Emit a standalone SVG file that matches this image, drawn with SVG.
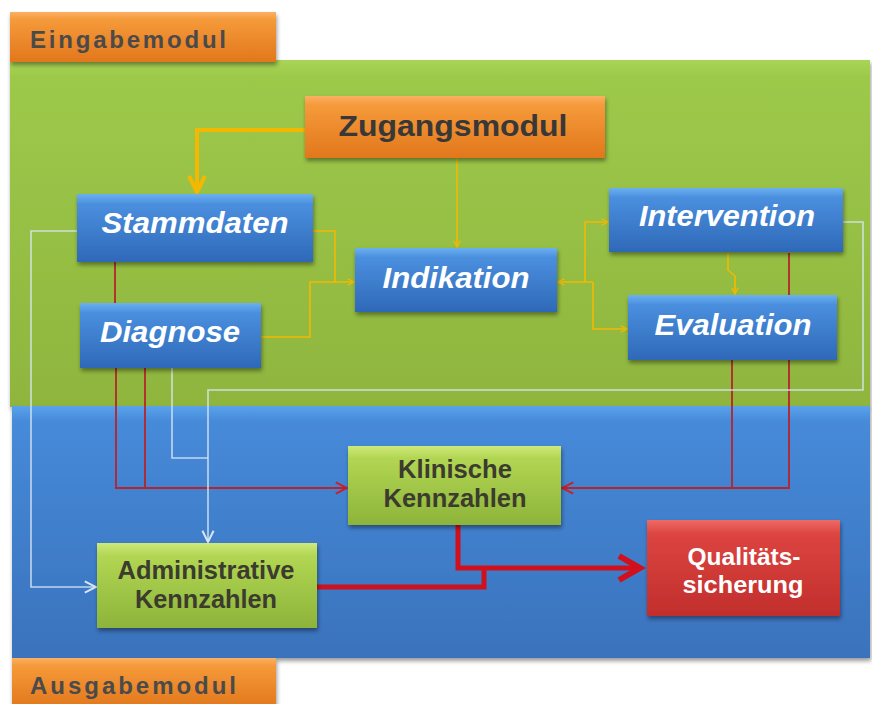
<svg xmlns="http://www.w3.org/2000/svg" width="872" height="704" viewBox="0 0 872 704">
<defs>
<linearGradient id="gGreenPanel" x1="0" y1="0" x2="0" y2="1"><stop offset="0" stop-color="#a9d456"/><stop offset="0.05" stop-color="#9dc94a"/><stop offset="1" stop-color="#8fb53e"/></linearGradient>
<linearGradient id="gBluePanel" x1="0" y1="0" x2="0" y2="1"><stop offset="0" stop-color="#5aa3ea"/><stop offset="0.06" stop-color="#468ad9"/><stop offset="1" stop-color="#3a72bc"/></linearGradient>
<linearGradient id="gOrange" x1="0" y1="0" x2="0" y2="1"><stop offset="0" stop-color="#fbb063"/><stop offset="0.15" stop-color="#f59a3a"/><stop offset="1" stop-color="#e2771c"/></linearGradient>
<linearGradient id="gBlue" x1="0" y1="0" x2="0" y2="1"><stop offset="0" stop-color="#6bb0ef"/><stop offset="0.15" stop-color="#4a8fde"/><stop offset="1" stop-color="#2e69b8"/></linearGradient>
<linearGradient id="gLime" x1="0" y1="0" x2="0" y2="1"><stop offset="0" stop-color="#cfe97a"/><stop offset="0.15" stop-color="#b2d653"/><stop offset="1" stop-color="#8db43a"/></linearGradient>
<linearGradient id="gRed" x1="0" y1="0" x2="0" y2="1"><stop offset="0" stop-color="#ee6a64"/><stop offset="0.15" stop-color="#dc4440"/><stop offset="1" stop-color="#c12e2c"/></linearGradient>
<filter id="sh" x="-10%" y="-10%" width="130%" height="140%"><feDropShadow dx="1" dy="3" stdDeviation="2" flood-color="#000" flood-opacity="0.4"/></filter>
<marker id="aY" viewBox="0 0 10 10" refX="9" refY="5" markerWidth="8" markerHeight="8" orient="auto" markerUnits="userSpaceOnUse"><path d="M1,1 L9,5 L1,9" fill="none" stroke="#f5b800" stroke-width="1.6"/></marker>
<marker id="aYb" viewBox="0 0 10 10" refX="9" refY="5" markerWidth="20" markerHeight="20" orient="auto" markerUnits="userSpaceOnUse"><path d="M1,1 L9,5 L1,9" fill="none" stroke="#f5b800" stroke-width="2"/></marker>
<marker id="aR" viewBox="0 0 10 10" refX="9" refY="5" markerWidth="14" markerHeight="14" orient="auto" markerUnits="userSpaceOnUse"><path d="M1,1 L9,5 L1,9" fill="none" stroke="#c8202a" stroke-width="1.4"/></marker>
<marker id="aRb" viewBox="0 0 10 10" refX="8" refY="5" markerWidth="6" markerHeight="6" orient="auto" markerUnits="strokeWidth"><path d="M1,1 L8,5 L1,9" fill="none" stroke="#d0101c" stroke-width="2"/></marker>
<marker id="aW" viewBox="0 0 10 10" refX="9" refY="5" markerWidth="14" markerHeight="14" orient="auto" markerUnits="userSpaceOnUse"><path d="M1,1 L9,5 L1,9" fill="none" stroke="#d8e6f2" stroke-width="1.4"/></marker>
<style>
.tab{fill:url(#gOrange);filter:url(#sh)}
.tabt{font-family:"Liberation Sans",Arial,sans-serif;font-weight:bold;font-size:24px;fill:#4a4a4a}
.bn{fill:url(#gBlue);filter:url(#sh)}
.bt{font-family:"Liberation Sans",Arial,sans-serif;font-weight:bold;font-style:italic;font-size:29px;fill:#fff;text-anchor:middle}
.gn{fill:url(#gLime);filter:url(#sh)}
.gt{font-family:"Liberation Sans",Arial,sans-serif;font-weight:bold;font-size:25px;fill:#3b3b2e;text-anchor:middle}
.rt{font-family:"Liberation Sans",Arial,sans-serif;font-weight:bold;font-size:24px;fill:#fff;text-anchor:middle}
.y{fill:none;stroke:#f5b800;stroke-width:1.6}
.yb{fill:none;stroke:#f5b800;stroke-width:4}
.r{fill:none;stroke:#b8232c;stroke-width:1.8}
.rb{fill:none;stroke:#d0101c;stroke-width:5}
.w{fill:none;stroke:#d8e6f2;stroke-width:1.6;stroke-opacity:0.85}
</style>
</defs>
<rect width="872" height="704" fill="#fff"/>
<g id="panel-eingabe"><rect x="10" y="60" width="860" height="347" fill="url(#gGreenPanel)" filter="url(#sh)"/></g>
<g id="panel-ausgabe"><rect x="12" y="406" width="858" height="252" fill="url(#gBluePanel)" filter="url(#sh)"/></g>
<g id="tab-eingabe"><rect class="tab" x="10" y="12" width="266" height="50"/><text class="tabt" x="30" y="48" textLength="196" lengthAdjust="spacing">Eingabemodul</text></g>
<g id="tab-ausgabe"><rect class="tab" x="12" y="658" width="264" height="50"/><text class="tabt" x="30" y="694" textLength="206" lengthAdjust="spacing">Ausgabemodul</text></g>
<g id="connectors">
<path class="yb" d="M305,130 H197 V192" marker-end="url(#aYb)"/>
<path class="y" d="M457,158 V247" marker-end="url(#aY)"/>
<path class="y" d="M313,231 H335 V282 H354" marker-end="url(#aY)"/>
<path class="y" d="M261,337 H310 V282 H335"/>
<path class="y" d="M593,282 H558" marker-end="url(#aY)"/>
<path class="y" d="M585,282 V222 H608" marker-end="url(#aY)"/>
<path class="y" d="M593,282 V329 H627" marker-end="url(#aY)"/>
<path class="y" d="M728,253 V270 L735,276 V294" marker-end="url(#aY)"/>
<path class="r" d="M115,262 V303"/>
<path class="r" d="M116,368 V488 H347" marker-end="url(#aR)"/>
<path class="r" d="M145,368 V488"/>
<path class="r" d="M789,253 V295"/>
<path class="r" d="M789,360 V488 H562" marker-end="url(#aR)"/>
<path class="r" d="M732,360 V488"/>
<path class="w" d="M77,231 H31 V587 H96" marker-end="url(#aW)"/>
<path class="w" d="M843,222 H863 V390 H208 V542" marker-end="url(#aW)"/>
<path class="w" d="M172,368 V458 H208"/>
<path class="rb" d="M458,525 V568 H640" marker-end="url(#aRb)"/>
<path class="rb" d="M317,587 H484 V568"/>
</g>
<g id="zugangsmodul"><rect x="305" y="96" width="300" height="62" fill="url(#gOrange)" filter="url(#sh)"/><text x="453" y="136" font-family="Liberation Sans,Arial,sans-serif" font-weight="bold" font-size="30" fill="#383838" text-anchor="middle" textLength="229" lengthAdjust="spacingAndGlyphs">Zugangsmodul</text></g>
<g id="stammdaten"><rect class="bn" x="77" y="194" width="236" height="68"/><text class="bt" x="195" y="233" textLength="187" lengthAdjust="spacingAndGlyphs">Stammdaten</text></g>
<g id="diagnose"><rect class="bn" x="80" y="303" width="181" height="65"/><text class="bt" x="170" y="342" textLength="140" lengthAdjust="spacingAndGlyphs">Diagnose</text></g>
<g id="indikation"><rect class="bn" x="355" y="248" width="202" height="64"/><text class="bt" x="456" y="288" textLength="147" lengthAdjust="spacingAndGlyphs">Indikation</text></g>
<g id="intervention"><rect class="bn" x="609" y="188" width="234" height="64"/><text class="bt" x="727" y="226" textLength="176" lengthAdjust="spacingAndGlyphs">Intervention</text></g>
<g id="evaluation"><rect class="bn" x="628" y="295" width="209" height="65"/><text class="bt" x="733" y="335" textLength="157" lengthAdjust="spacingAndGlyphs">Evaluation</text></g>
<g id="klinische"><rect class="gn" x="348" y="446" width="213" height="79"/><text class="gt" x="455" y="478" textLength="114" lengthAdjust="spacingAndGlyphs">Klinische</text><text class="gt" x="455" y="507" textLength="143" lengthAdjust="spacingAndGlyphs">Kennzahlen</text></g>
<g id="administrative"><rect class="gn" x="97" y="543" width="220" height="85"/><text class="gt" x="206" y="579" textLength="177" lengthAdjust="spacingAndGlyphs">Administrative</text><text class="gt" x="206" y="608" textLength="142" lengthAdjust="spacingAndGlyphs">Kennzahlen</text></g>
<g id="qualitaet"><rect x="647" y="520" width="193" height="96" fill="url(#gRed)" filter="url(#sh)"/><text class="rt" x="744" y="565" textLength="113" lengthAdjust="spacingAndGlyphs">Qualitäts-</text><text class="rt" x="743" y="593" textLength="121" lengthAdjust="spacingAndGlyphs">sicherung</text></g>
</svg>
